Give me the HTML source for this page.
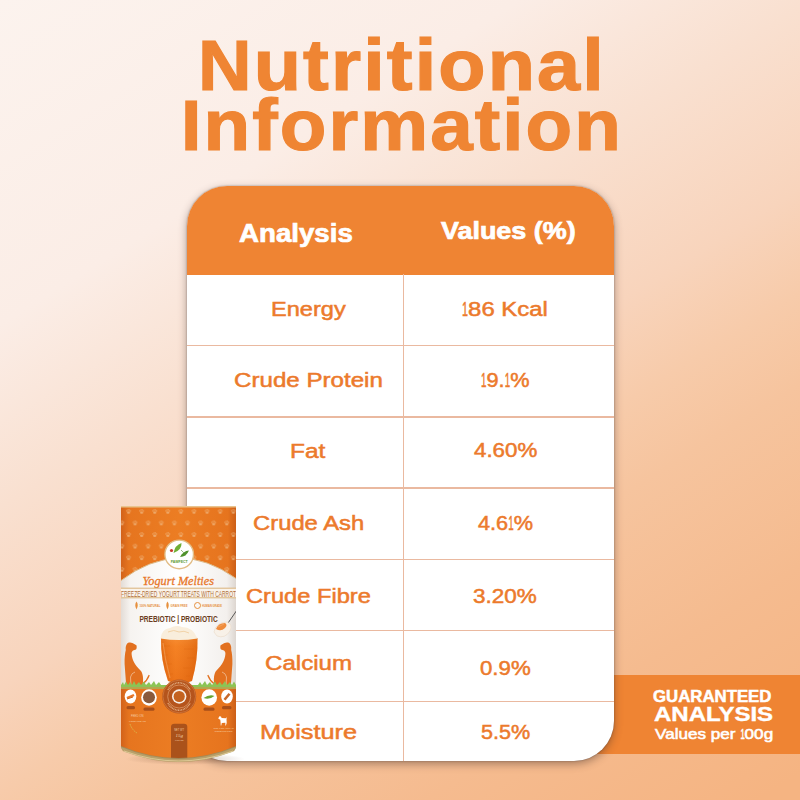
<!DOCTYPE html>
<html><head><meta charset="utf-8">
<style>
html,body{margin:0;padding:0;}
body{width:800px;height:800px;overflow:hidden;position:relative;font-family:"Liberation Sans",sans-serif;
background:linear-gradient(148deg,rgb(252,243,238) 0%,rgb(251,237,230) 25%,rgb(249,224,208) 39%,rgb(248,212,188) 53%,rgb(247,203,170) 61%,rgb(246,196,158) 68%,rgb(245,187,143) 82%,rgb(245,180,130) 98%);}
.t{position:absolute;white-space:nowrap;line-height:1;transform-origin:0 0;font-weight:bold;}
.title{color:#ef8533;}
.h{color:#fff;}
.r{color:#ec7a2c;}
.b{color:#fff;}
.band{position:absolute;left:560px;top:675px;width:240px;height:79px;background:#ef8433;}
.table{position:absolute;left:187px;top:186px;width:427px;height:575px;border-radius:40px;background:#fff;overflow:hidden;
box-shadow:0 3px 8px rgba(70,50,45,.45),0 0 1.5px rgba(50,45,50,.6);}
.hdr{position:absolute;left:0;top:0;width:427px;height:88.5px;background:#ef8433;}
.hl{position:absolute;left:0;width:427px;height:1.3px;background:#eab9a0;}
.vl{position:absolute;left:215.9px;top:88px;width:1.3px;height:500px;background:#eab9a0;}
</style></head>
<body>
<div class="band"></div>
<div class="table">
  <div class="hdr"></div>
  <div class="hl" style="top:158.85px"></div>
  <div class="hl" style="top:230.35px"></div>
  <div class="hl" style="top:301.35px"></div>
  <div class="hl" style="top:373.05px"></div>
  <div class="hl" style="top:443.95px"></div>
  <div class="hl" style="top:514.75px"></div>
  <div class="vl"></div>
</div>
<div class="t title" style="left:197.76px;top:27.70px;transform:scaleX(1.0599);-webkit-text-stroke:1.2px currentColor;letter-spacing:2px;"><span style="font-size:70px">N</span><span style="font-size:73px">utritional</span></div>
<div class="t title" style="left:181.32px;top:87.60px;transform:scaleX(1.0460);-webkit-text-stroke:1.2px currentColor;letter-spacing:2px;"><span style="font-size:70px">I</span><span style="font-size:73px">nformation</span></div>
<div class="t h" style="left:238.75px;top:220.50px;transform:scaleX(1.0851);font-size:25.5px;-webkit-text-stroke:0.7px currentColor;">Analysis</div>
<div class="t h" style="left:441.00px;top:220.30px;transform:scaleX(1.1453);font-size:23.5px;-webkit-text-stroke:0.7px currentColor;">Values (%)</div>
<div class="t r" style="left:271.02px;top:298.90px;transform:scaleX(1.1790);font-weight:normal;-webkit-text-stroke:0.5px currentColor;font-size:20px;">Energy</div>
<div class="t r" style="left:234.09px;top:370.20px;transform:scaleX(1.2066);font-weight:normal;-webkit-text-stroke:0.5px currentColor;font-size:20px;">Crude Protein</div>
<div class="t r" style="left:290.38px;top:441.10px;transform:scaleX(1.2214);font-weight:normal;-webkit-text-stroke:0.5px currentColor;font-size:20px;">Fat</div>
<div class="t r" style="left:252.56px;top:512.50px;transform:scaleX(1.1908);font-weight:normal;-webkit-text-stroke:0.5px currentColor;font-size:20px;">Crude Ash</div>
<div class="t r" style="left:245.82px;top:586.10px;transform:scaleX(1.1827);font-weight:normal;-webkit-text-stroke:0.5px currentColor;font-size:20px;">Crude Fibre</div>
<div class="t r" style="left:264.89px;top:652.50px;transform:scaleX(1.2057);font-weight:normal;-webkit-text-stroke:0.5px currentColor;font-size:20px;">Calcium</div>
<div class="t r" style="left:259.93px;top:721.70px;transform:scaleX(1.2653);font-weight:normal;-webkit-text-stroke:0.5px currentColor;font-size:20px;">Moisture</div>
<div class="t r" style="left:461.81px;top:299.00px;transform:scaleX(1.1943);font-weight:normal;-webkit-text-stroke:0.5px currentColor;font-size:20px;"><span style="display:inline-block;transform:scaleX(.45);transform-origin:0 0;margin-right:-.3em">1</span>86 Kcal</div>
<div class="t r" style="left:481.32px;top:370.40px;transform:scaleX(1.0837);font-weight:normal;-webkit-text-stroke:0.5px currentColor;font-size:20px;"><span style="display:inline-block;transform:scaleX(.45);transform-origin:0 0;margin-right:-.3em">1</span>9.<span style="display:inline-block;transform:scaleX(.45);transform-origin:0 0;margin-right:-.3em">1</span>%</div>
<div class="t r" style="left:474.10px;top:440.10px;transform:scaleX(1.1161);font-weight:normal;-webkit-text-stroke:0.5px currentColor;font-size:20px;">4.60%</div>
<div class="t r" style="left:478.20px;top:513.10px;transform:scaleX(1.0840);font-weight:normal;-webkit-text-stroke:0.5px currentColor;font-size:20px;">4.6<span style="display:inline-block;transform:scaleX(.45);transform-origin:0 0;margin-right:-.3em">1</span>%</div>
<div class="t r" style="left:473.28px;top:585.80px;transform:scaleX(1.1236);font-weight:normal;-webkit-text-stroke:0.5px currentColor;font-size:20px;">3.20%</div>
<div class="t r" style="left:479.79px;top:657.50px;transform:scaleX(1.1114);font-weight:normal;-webkit-text-stroke:0.5px currentColor;font-size:20px;">0.9%</div>
<div class="t r" style="left:480.52px;top:721.60px;transform:scaleX(1.0795);font-weight:normal;-webkit-text-stroke:0.5px currentColor;font-size:20px;">5.5%</div>
<div class="t b" style="left:653.00px;top:689.00px;transform:scaleX(1.0487);font-size:16px;-webkit-text-stroke:0.5px currentColor;">GUARANTEED</div>
<div class="t b" style="left:653.60px;top:703.40px;transform:scaleX(1.1423);font-size:21px;-webkit-text-stroke:0.4px currentColor;">ANALYSIS</div>
<div class="t b" style="left:655.40px;top:727.40px;transform:scaleX(1.1879);font-size:14.4px;font-weight:normal;-webkit-text-stroke:0.55px currentColor;">Values per <span style="display:inline-block;transform:scaleX(.45);transform-origin:0 0;margin-right:-.3em">1</span>00g</div>
<div id="can" style="position:absolute;left:0;top:0;width:800px;height:800px;">
<svg width="800" height="800" viewBox="0 0 800 800" style="position:absolute;left:0;top:0;overflow:visible">
<defs>
<linearGradient id="cO" x1="121" x2="236" y1="0" y2="0" gradientUnits="userSpaceOnUse">
<stop offset="0" stop-color="#d2621a"/><stop offset="0.07" stop-color="#e6751f"/><stop offset="0.5" stop-color="#ec7d23"/><stop offset="0.93" stop-color="#e6741e"/><stop offset="1" stop-color="#cc5f18"/>
</linearGradient>
<linearGradient id="cW" x1="121" x2="236" y1="0" y2="0" gradientUnits="userSpaceOnUse">
<stop offset="0" stop-color="#e3dcd6"/><stop offset="0.08" stop-color="#f6f3f0"/><stop offset="0.5" stop-color="#ffffff"/><stop offset="0.92" stop-color="#f3f0ed"/><stop offset="1" stop-color="#ddd6d0"/>
</linearGradient>
<linearGradient id="cc" x1="0" x2="0" y1="630" y2="683" gradientUnits="userSpaceOnUse">
<stop offset="0" stop-color="#f8923a"/><stop offset="0.3" stop-color="#f37a1a"/><stop offset="1" stop-color="#ea6a0e"/>
</linearGradient>
<linearGradient id="cch" x1="161" x2="198" y1="0" y2="0" gradientUnits="userSpaceOnUse">
<stop offset="0" stop-color="#b04000" stop-opacity="0.25"/><stop offset="0.4" stop-color="#ffb060" stop-opacity="0.15"/><stop offset="1" stop-color="#b04000" stop-opacity="0.25"/>
</linearGradient>
<pattern id="paw" x="158.7" y="520.5" width="13.1" height="23.2" patternUnits="userSpaceOnUse">
<g id="pw" fill="#f0bb85" opacity="0.7"><ellipse cx="2.6" cy="3.6" rx="1.6" ry="1.3"/><circle cx="0.8" cy="1.9" r="0.65"/><circle cx="1.95" cy="0.9" r="0.65"/><circle cx="3.25" cy="0.9" r="0.65"/><circle cx="4.4" cy="1.9" r="0.65"/></g>
<use href="#pw" x="6.55" y="11.6"/><use href="#pw" x="-6.55" y="11.6"/>
</pattern>
<radialGradient id="sh" cx="0.5" cy="0.5" r="0.5">
<stop offset="0" stop-color="#5a3018" stop-opacity="0.5"/><stop offset="1" stop-color="#5a3018" stop-opacity="0"/>
</radialGradient>
<clipPath id="body"><path d="M121,506 L236,506 L236,747 Q178.5,771 121,747 Z"/></clipPath>
</defs>
<ellipse cx="185" cy="759" rx="60" ry="6" fill="url(#sh)" opacity="0.6"/>
<g clip-path="url(#body)">
<rect x="121" y="500" width="115" height="270" fill="url(#cO)"/>
<rect x="121" y="509" width="115" height="75" fill="url(#paw)"/>
<!-- white label -->
<path d="M121,580.5 Q178.5,537 236,578.5 L236,688 L121,688 Z" fill="url(#cW)"/>
<path d="M121,580.5 Q178.5,537 236,578.5" fill="none" stroke="#dcb987" stroke-width="1"/>
<!-- logo -->
<circle cx="179.2" cy="554.4" r="14.3" fill="#fff" stroke="#e2bd86" stroke-width="1.4"/>
<path d="M173.5,553 q1.5,-8 8,-10 q0.5,7 -8,10z" fill="#6fae35"/>
<path d="M180,557 q3,-6 9,-6.5 q-2.5,6 -9,6.5z" fill="#4f922b"/>
<path d="M181,550 q3,2 4,6" stroke="#4f922b" stroke-width="0.6" fill="none"/>
<circle cx="171.5" cy="550.5" r="1.6" fill="#c83a2a"/>
<text x="179.2" y="563.2" font-size="3.8" font-weight="bold" fill="#5b9a2f" text-anchor="middle" font-family="Liberation Sans" textLength="17" lengthAdjust="spacingAndGlyphs">PAWFECT</text>
<!-- title script -->
<text x="142.6" y="584.5" font-size="13" font-style="italic" fill="#e8772a" stroke="#e8772a" stroke-width="0.3" font-family="Liberation Serif" textLength="71.4" lengthAdjust="spacingAndGlyphs">Yogurt Melties</text>
<!-- banner -->
<rect x="121" y="588" width="115" height="10" fill="#faf3ea"/>
<line x1="121" y1="588.2" x2="236" y2="588.2" stroke="#d8b27a" stroke-width="1"/>
<line x1="121" y1="597.8" x2="236" y2="597.8" stroke="#d8b27a" stroke-width="1"/>
<text x="121" y="596.5" font-size="8.3" fill="#b0703a" font-family="Liberation Sans" textLength="115" lengthAdjust="spacingAndGlyphs">FREEZE-DRIED YOGURT TREATS WITH CARROT</text>
<!-- icons row -->
<path d="M136.5,601.5 q2.5,3.5 0,8 q-2.5,-4.5 0,-8z" fill="#e6903e"/>
<text x="139.5" y="607" font-size="3.2" font-weight="bold" fill="#e6903e" font-family="Liberation Sans" textLength="21" lengthAdjust="spacingAndGlyphs">100% NATURAL</text>
<path d="M167.5,601.5 q2.5,3.5 0,8 q-2.5,-4.5 0,-8z" fill="#e6903e"/>
<text x="170.5" y="607" font-size="3.2" font-weight="bold" fill="#e6903e" font-family="Liberation Sans" textLength="17" lengthAdjust="spacingAndGlyphs">GRAIN FREE</text>
<circle cx="197.5" cy="605.5" r="3" fill="none" stroke="#e6903e" stroke-width="1"/>
<text x="202" y="607" font-size="3.2" font-weight="bold" fill="#e6903e" font-family="Liberation Sans" textLength="20" lengthAdjust="spacingAndGlyphs">HUMAN GRADE</text>
<!-- prebiotic -->
<text x="139.4" y="621.8" font-size="8.2" font-weight="bold" fill="#6b3d20" font-family="Liberation Sans" textLength="78.3" lengthAdjust="spacingAndGlyphs">PREBIOTIC | PROBIOTIC</text>
<!-- spoon -->
<path d="M237,610 L226,626" stroke="#4a4a4a" stroke-width="0.9"/>
<path d="M214,632 q2,-10 13,-10 q6,2 3,9 q-5,8 -13,5 z" fill="#f8f1e8" stroke="#e9d8c6" stroke-width="0.6"/>
<path d="M216,629 q2,-6 9,-6 q3,2 0,5 q-4,4 -9,1z" fill="#ef8c3c"/>
<path d="M218,627 l6,-3" stroke="#f6b070" stroke-width="0.6"/>
<!-- carrot -->
<path d="M161,638 Q179,635 197.5,638 Q198,660 192,681 Q180,686 168,681 Q160.5,660 161,638 Z" fill="url(#cc)"/>
<path d="M161,638 Q179,635 197.5,638 Q198,660 192,681 Q180,686 168,681 Q160.5,660 161,638 Z" fill="url(#cch)"/>
<path d="M164,646 h6 M184,649 h10 M163,655 h5 M187,658 h8 M165,664 h7 M183,668 h9 M168,674 h5 M186,676 h4" stroke="#d8650f" stroke-width="0.5" opacity="0.55"/>
<path d="M163,643 Q165,660 170,678" stroke="#f8b070" stroke-width="1.2" fill="none" opacity="0.5"/>
<path d="M160.5,638.5 Q161.5,629 170,628 Q176,624.5 182,627 Q193,627 197.5,638.5 Q179,641.5 160.5,638.5 Z" fill="#f9eedc"/>
<path d="M168,632 q6,-3 11,0 q5,-2 10,1" stroke="#f0cfa0" stroke-width="0.9" fill="none"/>
<!-- dogs -->
<g id="dog">
<path d="M126.2,686 L124.6,664 C124.4,658 125,653 125.8,650 C125.4,647 126.2,643.5 128.8,642.6 C131,642 133,643.2 134.2,644 L136.4,645.2 C136.9,646.5 136.8,648.6 136,649.6 L133,650.6 C132,651.5 131.5,652.5 131.6,654 C132.2,660 134.5,664.5 140.5,670.5 C143,673 143.8,679 142.5,686 Z" fill="#e2701f"/>
<path d="M142.5,684 Q147,681 149,675.5" stroke="#e2701f" stroke-width="1.3" fill="none" stroke-linecap="round"/>
<path d="M131,686 L130.5,677 Q131.5,673 135,672" stroke="#f5d8bf" stroke-width="0.6" fill="none"/>
</g>
<use href="#dog" transform="translate(357,0) scale(-1,1)"/>
<!-- grass -->
<path d="M121,689 L121,685 L123,682 L124,685 L126,681.5 L128,685 L130,682 L132,685 L134,681 L136,685 L139,682 L141,685 L144,681.5 L146,685 L149,682 L151,685 L154,681 L156,685 L159,682 L161,685 L198,685 L200,682 L202,685 L205,681 L207,685 L210,682 L212,685 L215,681.5 L217,685 L220,682 L222,685 L225,681 L227,685 L230,682 L232,685 L234,681.5 L236,685 L236,689 Z" fill="#8cc455"/>
<rect x="121" y="687" width="115" height="2" fill="#d98a4a" opacity="0.5"/>
<!-- bottom circles -->
<circle cx="179.2" cy="696.5" r="17" fill="#b5541c"/>
<circle cx="179.2" cy="696.5" r="16.3" fill="none" stroke="#d9844a" stroke-width="0.6"/>
<circle cx="179.2" cy="696.5" r="11.5" fill="none" stroke="#e3a070" stroke-width="0.7"/>
<path d="M168,690 a12,12 0 0 1 22,0" stroke="#f0c8a0" stroke-width="1.6" stroke-dasharray="1 0.6" fill="none" opacity="0.7"/>
<path d="M168,703 a12,12 0 0 0 22,0" stroke="#f0c8a0" stroke-width="1.6" stroke-dasharray="1 0.6" fill="none" opacity="0.7"/>
<circle cx="179.2" cy="696.5" r="7.2" fill="#f7eee6"/>
<circle cx="179.2" cy="696.5" r="5.6" fill="#c4621f"/>
<ellipse cx="130.5" cy="696.5" rx="5.8" ry="7" fill="#fff"/>
<path d="M126.5,697 l7,-3 l1,2 l-7,3z" fill="#e8782a"/><path d="M127,699 l6,-2" stroke="#d06418" stroke-width="1"/>
<ellipse cx="149" cy="697.5" rx="7.8" ry="8.2" fill="#fff"/>
<circle cx="149" cy="697.3" r="6" fill="#8a5a3c"/>
<ellipse cx="209.2" cy="697.5" rx="7.8" ry="8.2" fill="#fff"/>
<path d="M203.5,698 q6,-4 11,-2 q-5,4 -11,2z" fill="#6aa531"/>
<ellipse cx="227" cy="696.5" rx="5.8" ry="7" fill="#fff"/>
<path d="M223.5,699 l5,-6 l2,1.5 l-5,6z" fill="#c8692a"/>
<rect x="126.5" y="706" width="8.5" height="3.2" rx="1.5" fill="#a84f1a"/>
<rect x="143.5" y="707.5" width="11" height="3.2" rx="1.5" fill="#a84f1a"/>
<rect x="203.5" y="707.5" width="11" height="3.2" rx="1.5" fill="#a84f1a"/>
<rect x="222" y="706" width="9.5" height="3.2" rx="1.5" fill="#a84f1a"/>
<!-- tab -->
<path d="M171,760 L171,727 Q171,723.7 174.5,723.7 L184,723.7 Q187.3,723.7 187.3,727 L187.3,760 Z" fill="#aa521b"/>
<text x="179.2" y="731" font-size="2.6" fill="#f3c9a0" text-anchor="middle" font-family="Liberation Sans">NET WT</text>
<text x="179.2" y="736.5" font-size="5" fill="#f3d2b0" text-anchor="middle" font-family="Liberation Serif" font-style="italic">15g</text>
<text x="179.2" y="740.5" font-size="2.4" fill="#f3c9a0" text-anchor="middle" font-family="Liberation Sans">0.53 OZ</text>
<!-- small white text left/right -->
<text x="131" y="717" font-size="2.8" fill="#f6d0a8" font-family="Liberation Sans">FEED ON</text>
<text x="129" y="722" font-size="2.4" fill="#f6d0a8" font-family="Liberation Sans">FOOD  TREATS</text>
<path d="M130,724 q2,6 7,9" stroke="#d9c050" stroke-width="0.9" fill="none" stroke-dasharray="1.5 1"/>
<path d="M218.2,718.5 l1.2,-2.3 l1.6,0.2 l0.6,1.6 l4,0.2 l1.5,-1 l-0.6,1.6 l0.2,4.2 l-0.8,2.4 h-0.6 l0.1,-2.6 l-3.6,0.2 l-0.5,2.4 h-0.6 l-0.1,-3 l-0.3,-2.6 l-1,-0.6 z" fill="#fff"/>
<text x="213.5" y="729" font-size="2.4" fill="#f6d0a8" font-family="Liberation Sans">NOT FOR HUMAN</text>
<text x="214.5" y="732" font-size="2.4" fill="#f6d0a8" font-family="Liberation Sans">CONSUMPTION</text>
</g>
<path d="M121,506.8 L236,506.8" stroke="#e9c48e" stroke-width="1.6" fill="none"/>
<path d="M121,746.5 Q178.5,770.5 236,746.5 L236,748 Q235,751 232,752 Q178.5,772 125,752 Q122,751 121,748 Z" fill="#b9a06a"/>
<path d="M124,751 Q178.5,771 233,751" stroke="#e3d29e" stroke-width="0.8" fill="none"/>
<path d="M121,746.5 Q178.5,770.5 236,746.5" stroke="#9a8a5a" stroke-width="0.8" fill="none"/>

</svg>

</div>
</body></html>
